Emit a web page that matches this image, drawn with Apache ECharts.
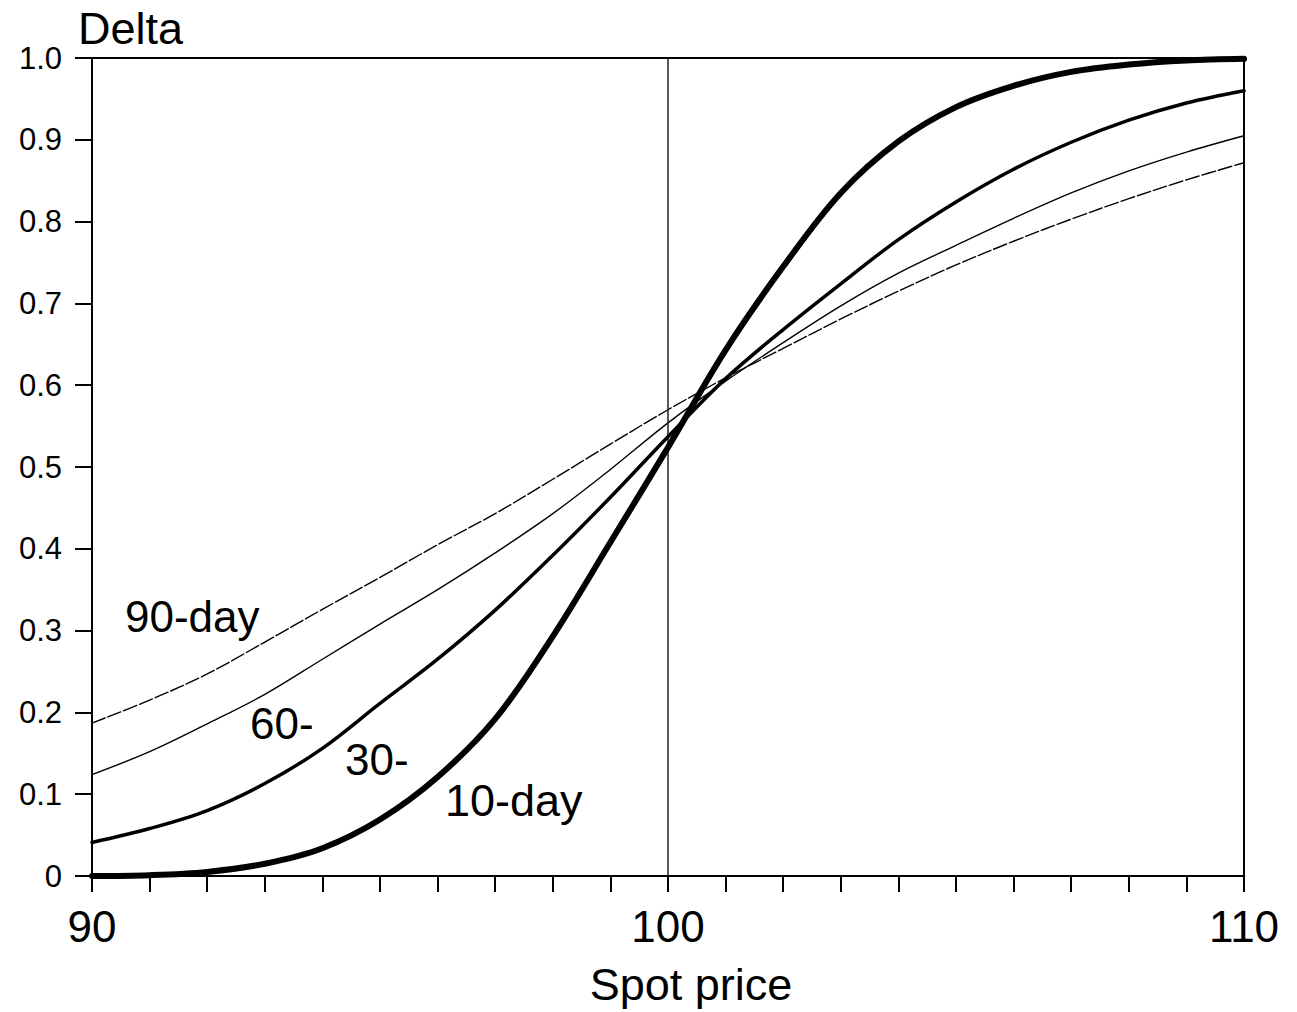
<!DOCTYPE html>
<html>
<head>
<meta charset="utf-8">
<script src="https://cdn.jsdelivr.net/npm/echarts@6/dist/echarts.min.js"></script>
<style>
html,body{margin:0;padding:0;background:#fff;}
#chart{width:1297px;height:1012px;}
</style>
</head>
<body>
<div id="chart"></div>
<script>
// Spot prices (x values)
const spot = [90,91,92,93,94,95,96,97,98,99,100,101,102,103,104,105,106,107,108,109,110];
// Delta values
const delta10 = [0.000,0.001,0.005,0.015,0.034,0.069,0.121,0.192,0.293,0.408,0.524,0.643,0.745,0.835,0.898,0.940,0.966,0.983,0.992,0.997,0.999];
const delta30 = [0.041,0.058,0.080,0.113,0.156,0.211,0.265,0.325,0.392,0.463,0.537,0.608,0.668,0.724,0.778,0.824,0.864,0.897,0.924,0.945,0.960];
const delta60 = [0.124,0.152,0.186,0.222,0.265,0.308,0.350,0.395,0.443,0.497,0.554,0.605,0.652,0.697,0.737,0.771,0.804,0.835,0.862,0.885,0.905];
const delta90 = [0.187,0.215,0.247,0.286,0.326,0.365,0.405,0.443,0.485,0.528,0.570,0.609,0.645,0.681,0.715,0.747,0.776,0.803,0.828,0.851,0.872];
const xLabels = [90,100,110];
const curveLabels = ['90-day','60-','30-','10-day'];

const FONT = '"Liberation Sans", Arial, Helvetica, sans-serif';
const pts = arr => spot.map((s,i)=>[s, arr[i]]);

const chart = echarts.init(document.getElementById('chart'), null, {renderer:'svg'});

function lineSeries(name, arr, width, type, z){
  return {
    name, type:'line', data: pts(arr), showSymbol:false, symbol:'none',
    smooth:0.35, z,
    lineStyle:{color:'#000', width, type, cap:'round', join:'round'},
    silent:true, animation:false
  };
}

const series = [
  lineSeries('90-day', delta90, 1.4, [14,3], 3),
  lineSeries('60-day', delta60, 1.4, 'solid', 4),
  lineSeries('30-day', delta30, 3.5, 'solid', 5),
  lineSeries('10-day', delta10, 6, 'solid', 6)
];
series[0].markLine = {
  silent:true, symbol:'none', animation:false,
  label:{show:false},
  lineStyle:{color:'#222', width:1.5, type:'solid'},
  data:[{xAxis:100}]
};

chart.setOption({
  animation:false,
  backgroundColor:'#fff',
  grid:{left:92, right:53, top:58, bottom:131, containLabel:false},
  xAxis:[{
    type:'value', min:90, max:110, interval:1,
    name:'Spot price', nameLocation:'middle', nameGap:86,
    nameTextStyle:{fontFamily:FONT, fontSize:45, color:'#000', padding:[0,0,0,46]},
    axisLine:{show:true, onZero:false, lineStyle:{color:'#000', width:2}},
    axisTick:{show:true, length:16, lineStyle:{color:'#000', width:2}},
    axisLabel:{show:true, margin:28, fontFamily:FONT, fontSize:44, color:'#000',
      formatter: v => xLabels.includes(v) ? String(v) : ''},
    splitLine:{show:false}
  },{
    type:'value', min:90, max:110, position:'top',
    axisLine:{show:true, onZero:false, lineStyle:{color:'#000', width:2}},
    axisTick:{show:false}, axisLabel:{show:false}, splitLine:{show:false}
  }],
  yAxis:[{
    type:'value', min:0, max:1, interval:0.1,
    axisLine:{show:true, onZero:false, lineStyle:{color:'#000', width:2}},
    axisTick:{show:true, length:17, lineStyle:{color:'#000', width:2}},
    axisLabel:{show:true, margin:30, fontFamily:FONT, fontSize:31, color:'#000',
      formatter: v => v === 0 ? '0' : v.toFixed(1)},
    splitLine:{show:false}
  },{
    type:'value', min:0, max:1, position:'right',
    axisLine:{show:true, onZero:false, lineStyle:{color:'#000', width:2}},
    axisTick:{show:false}, axisLabel:{show:false}, splitLine:{show:false}
  }],
  series,
  graphic:[
    {type:'text', left:78, top:6, style:{text:'Delta', font:'45px '+FONT, fill:'#000'}},
    {type:'text', left:125, top:594, style:{text:curveLabels[0], font:'44px '+FONT, fill:'#000'}},
    {type:'text', left:250, top:701, style:{text:curveLabels[1], font:'44px '+FONT, fill:'#000'}},
    {type:'text', left:345, top:737, style:{text:curveLabels[2], font:'44px '+FONT, fill:'#000'}},
    {type:'text', left:445, top:778, style:{text:curveLabels[3], font:'45px '+FONT, fill:'#000'}}
  ]
});
</script>
</body>
</html>
